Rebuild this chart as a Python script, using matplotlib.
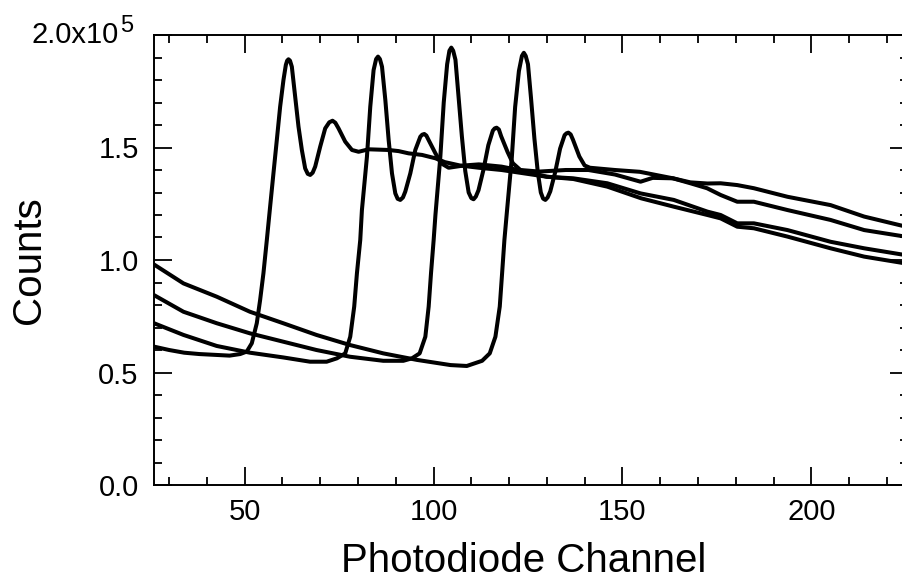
import numpy as np
import matplotlib
matplotlib.use("Agg")
from matplotlib import pyplot as plt
from matplotlib.ticker import MultipleLocator, FixedLocator, FixedFormatter

plt.rcParams['font.family'] = ['Liberation Sans', 'DejaVu Sans']

# four spectra, edge moved ~20 channels each time (counts in units of 1e5)
xa = [26, 30, 34, 38, 42.6, 46, 48.8, 50.56, 51.89, 53.21, 54.09, 54.97, 55.87, 56.74, 57.62, 58.51,
      59.39, 60.27, 60.9, 61.25, 61.6, 62.0, 62.49, 63.37, 64.25, 65.14, 66.02, 66.7, 67.35, 68.0,
      68.67, 70.0, 71.32, 72.4, 73.26, 74.0, 74.85, 76.62, 78.4, 80.16, 82.8, 88.1, 90.75, 93.4,
      96.95, 100.5, 103, 107, 112, 118, 124, 130, 137, 146, 155, 163.6, 172.5, 176, 180.4, 184.8,
      193.7, 205.1, 214, 225.6]
ya = [0.615, 0.60, 0.588, 0.582, 0.578, 0.575, 0.582, 0.593, 0.63, 0.719, 0.822, 0.941, 1.089,
      1.237, 1.385, 1.533, 1.681, 1.80, 1.867, 1.886, 1.892, 1.886, 1.859, 1.726, 1.593, 1.489,
      1.407, 1.383, 1.378, 1.388, 1.415, 1.504, 1.585, 1.612, 1.619, 1.610, 1.585, 1.526, 1.489,
      1.481, 1.492, 1.489, 1.484, 1.474, 1.467, 1.452, 1.435, 1.42, 1.41, 1.40, 1.385, 1.37, 1.36,
      1.326, 1.274, 1.237, 1.20, 1.185, 1.148, 1.141, 1.104, 1.052, 1.015, 0.983]

xb = [26, 33.8, 42.6, 51.4, 60.2, 67.3, 71.7, 74.42, 76.62, 77.95, 79.0, 79.72, 80.6, 81.04, 82.37,
      83.25, 84.13, 84.8, 85.3, 85.8, 86.36, 87.24, 88.12, 89.0, 89.88, 90.5, 91.2, 91.9, 92.52,
      93.85, 95.17, 96.5, 97.0, 97.56, 98.1, 98.7, 100.5, 102, 104, 108, 112, 118, 124, 130, 137,
      146, 154.8, 163.6, 172.5, 176, 180.4, 184.8, 193.7, 205.1, 214, 225.6]
yb = [0.719, 0.667, 0.618, 0.588, 0.567, 0.548, 0.548, 0.563, 0.585, 0.659, 0.793, 0.941, 1.089,
      1.222, 1.459, 1.681, 1.844, 1.893, 1.904, 1.893, 1.859, 1.711, 1.533, 1.385, 1.296, 1.272,
      1.267, 1.278, 1.304, 1.385, 1.489, 1.548, 1.557, 1.56, 1.553, 1.533, 1.474, 1.43, 1.41, 1.42,
      1.425, 1.415, 1.395, 1.37, 1.363, 1.341, 1.296, 1.267, 1.215, 1.20, 1.163, 1.163, 1.133,
      1.081, 1.052, 1.02]

xc = [26, 33.8, 42.6, 51.4, 60.2, 69.0, 77.9, 86.7, 92.0, 94.3, 96.32, 97.83, 98.71, 99.33, 100.03,
      100.5, 101.8, 102.7, 103.6, 104.2, 104.7, 105.2, 105.8, 106.6, 107.5, 108.4, 109.3, 110.0,
      110.6, 111.2, 111.9, 113.2, 114.5, 115.7, 116.2, 116.7, 117.3, 117.9, 119.6, 121, 123, 128,
      135, 141, 148, 154.8, 158, 163.4, 168, 172.5, 176, 180.4, 184.8, 193.7, 205.1, 214, 225.6]
yc = [0.844, 0.77, 0.719, 0.674, 0.637, 0.60, 0.57, 0.552, 0.552, 0.563, 0.585, 0.659, 0.793, 0.941,
      1.089, 1.20, 1.459, 1.70, 1.87, 1.930, 1.944, 1.930, 1.89, 1.73, 1.55, 1.395, 1.30, 1.275,
      1.27, 1.282, 1.31, 1.40, 1.51, 1.575, 1.585, 1.588, 1.580, 1.55, 1.48, 1.43, 1.40, 1.393,
      1.40, 1.40, 1.38, 1.348, 1.365, 1.363, 1.345, 1.34, 1.341, 1.333, 1.319, 1.281, 1.244, 1.193,
      1.146]

xd = [26, 33.8, 42.6, 51.4, 60.2, 69.0, 77.9, 86.7, 95.6, 104.5, 108.8, 112.86, 114.88, 116.38,
      117.53, 118.15, 118.76, 119.4, 120.7, 121.6, 122.6, 123.4, 123.9, 124.4, 125.0, 125.8, 126.7,
      127.6, 128.4, 129.0, 129.6, 130.2, 130.9, 132.2, 133.5, 134.7, 135.2, 135.7, 136.3, 136.9,
      138.6, 140, 141.4, 148, 154.6, 163.4, 168, 172.4, 176, 180.4, 184.8, 193.7, 205.1, 214, 225.6]
yd = [0.98, 0.896, 0.837, 0.77, 0.719, 0.667, 0.622, 0.585, 0.556, 0.533, 0.529, 0.552, 0.585,
      0.659, 0.793, 0.941, 1.089, 1.21, 1.45, 1.68, 1.84, 1.907, 1.921, 1.907, 1.87, 1.72, 1.54,
      1.39, 1.30, 1.273, 1.267, 1.278, 1.305, 1.39, 1.495, 1.555, 1.563, 1.566, 1.558, 1.535, 1.46,
      1.42, 1.41, 1.40, 1.392, 1.363, 1.341, 1.319, 1.289, 1.259, 1.259, 1.222, 1.178, 1.133, 1.102]

ytick_vals = [0.0, 0.5, 1.0, 1.5, 2.0]
ytick_labels = ['0.0', '0.5', '1.0', '1.5', '']

fig = plt.figure(figsize=(9.03, 5.80), dpi=100)
ax = fig.add_axes([154/903, 95/580, (908-154)/903, 450/580])

for xs, ys in [(xa, ya), (xb, yb), (xc, yc), (xd, yd)]:
    ax.plot(xs, ys, color='black', lw=2.9, solid_joinstyle='round', solid_capstyle='round')

ax.set_xlim(26, 225.6)
ax.set_ylim(0, 2.0)

ax.xaxis.set_major_locator(MultipleLocator(50))
ax.xaxis.set_minor_locator(MultipleLocator(10))
ax.yaxis.set_major_locator(FixedLocator(ytick_vals))
ax.yaxis.set_major_formatter(FixedFormatter(ytick_labels))
ax.yaxis.set_minor_locator(MultipleLocator(0.1))

ax.tick_params(which='both', direction='in', top=True, right=True, width=1.3, color='black')
ax.tick_params(which='major', length=13)
ax.tick_params(which='minor', length=6)
ax.tick_params(axis='x', labelsize=21, pad=9)
ax.tick_params(axis='y', labelsize=21, pad=11)
for s in ax.spines.values():
    s.set_linewidth(1.4)

# top label with its exponent
tr = ax.get_yaxis_transform()
ax.text(-35/754, 2.0, '2.0x10', transform=tr, fontsize=21, ha='right', va='center', clip_on=False)
ax.text(-34/754, 2.013, '5', transform=tr, fontsize=17, ha='left', va='baseline', clip_on=False)

ax.set_xlabel('Photodiode Channel', fontsize=29)
ax.xaxis.set_label_coords((524-154)/754, -57/450)
ax.set_ylabel('Counts', fontsize=29)
ax.yaxis.set_label_coords(-106/754, 0.5)

plt.savefig('out.png', dpi=100)
